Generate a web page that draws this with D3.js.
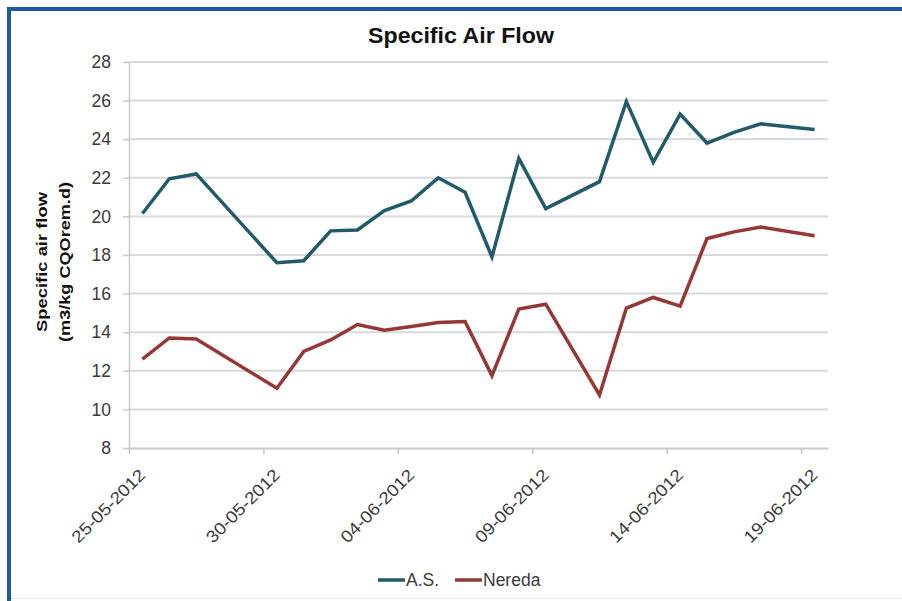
<!DOCTYPE html>
<html>
<head>
<meta charset="utf-8">
<script src="https://cdn.jsdelivr.net/npm/d3@7"></script>
<style>
  html, body { margin: 0; padding: 0; background: #fff; }
  svg { display: block; font-family: "Liberation Sans", Arial, sans-serif; }
</style>
</head>
<body>
<svg id="chart" width="902" height="601"></svg>
<script>
// ---- data ----
const dates = ["25-05-2012","26-05-2012","27-05-2012","30-05-2012","31-05-2012","01-06-2012","02-06-2012","03-06-2012","04-06-2012","05-06-2012","06-06-2012","07-06-2012","08-06-2012","09-06-2012","11-06-2012","12-06-2012","13-06-2012","14-06-2012","15-06-2012","16-06-2012","17-06-2012","19-06-2012"];
const asValues = [20.15,21.95,22.2,17.6,17.7,19.25,19.3,20.3,20.8,22.0,21.25,17.9,23.0,20.4,21.8,25.95,22.8,25.3,23.8,24.35,24.8,24.5];
const neredaValues = [12.6,13.7,13.65,11.1,13.0,13.6,14.4,14.1,14.3,14.5,14.55,11.75,15.2,15.45,10.75,15.25,15.8,15.35,18.85,19.2,19.45,19.0];
const xTickLabels = ["25-05-2012","30-05-2012","04-06-2012","09-06-2012","14-06-2012","19-06-2012"];
const yTicks = [8,10,12,14,16,18,20,22,24,26,28];
const seriesNames = ["A.S.","Nereda"];
const seriesColors = ["#215a69","#953735"];
const xDomain = ["25-05-2012","20-06-2012"];

(function () {
const parse = d3.utcParse("%d-%m-%Y");
const fmt = d3.utcFormat("%d-%m-%Y");
const HALF_DAY = 12 * 3600 * 1000;

const svg = d3.select("#chart");
const W = 902, H = 601;
const pL = 129, pR = 828, pT = 62, pB = 448;

// frame
svg.append("line").attr("x1", 9).attr("y1", 9).attr("x2", W).attr("y2", 9)
  .attr("stroke", "#1f5aa8").attr("stroke-width", 4);
svg.append("line").attr("x1", 9).attr("y1", 7).attr("x2", 9).attr("y2", H)
  .attr("stroke", "#1f5aa8").attr("stroke-width", 4);
svg.append("line").attr("x1", 11).attr("y1", 598.5).attr("x2", W).attr("y2", 598.5)
  .attr("stroke", "#e6e6e6").attr("stroke-width", 1);

const x = d3.scaleUtc().domain(xDomain.map(parse)).range([pL, pR]);
const y = d3.scaleLinear().domain([8, 28]).range([pB, pT]);

// gridlines
svg.append("g").selectAll("line").data(yTicks.filter(v => v !== 8)).join("line")
  .attr("x1", pL).attr("x2", pR)
  .attr("y1", d => y(d)).attr("y2", d => y(d))
  .attr("stroke", "#d9d9d9").attr("stroke-width", 2);

// y axis
const yAxis = svg.append("g").attr("transform", `translate(${pL},0)`)
  .call(d3.axisLeft(y).tickValues(yTicks).tickSize(6).tickPadding(12).tickSizeOuter(0));
yAxis.select(".domain").attr("stroke", "#c8c8c8").attr("stroke-width", 1.5);
yAxis.selectAll(".tick line").attr("stroke", "#c8c8c8").attr("stroke-width", 1.5);
yAxis.selectAll(".tick text").attr("font-size", 17.5).attr("fill", "#3a3a3a")
  .attr("font-family", "'Liberation Sans', Arial, sans-serif");

// x axis
const xAxis = svg.append("g").attr("transform", `translate(0,${pB})`)
  .call(d3.axisBottom(x).tickValues(xTickLabels.map(parse)).tickFormat(fmt).tickSize(6).tickSizeOuter(0));
xAxis.select(".domain").attr("stroke", "#c8c8c8").attr("stroke-width", 2);
xAxis.selectAll(".tick line").attr("stroke", "#c8c8c8").attr("stroke-width", 1.5);
xAxis.selectAll(".tick text")
  .attr("font-size", 17).attr("fill", "#3a3a3a")
  .attr("font-family", "'Liberation Sans', Arial, sans-serif")
  .attr("text-anchor", "end")
  .attr("y", 0).attr("dy", 0)
  .attr("textLength", 96).attr("lengthAdjust", "spacingAndGlyphs")
  .attr("transform", "translate(17,28) rotate(-45)");

// lines
const line = d3.line()
  .x((d, i) => x(new Date(parse(dates[i]).getTime() + HALF_DAY)))
  .y(d => y(d));
[asValues, neredaValues].forEach((vals, k) => {
  svg.append("path").datum(vals)
    .attr("d", line)
    .attr("fill", "none")
    .attr("stroke", seriesColors[k])
    .attr("stroke-width", 3.5)
    .attr("stroke-linejoin", "miter");
});

// title
svg.append("text").attr("x", 461).attr("y", 43)
  .attr("text-anchor", "middle").attr("font-size", 22).attr("font-weight", "bold")
  .attr("fill", "#111").attr("textLength", 186).attr("lengthAdjust", "spacingAndGlyphs")
  .text("Specific Air Flow");

// y label
svg.append("text").attr("transform", "translate(47,262) rotate(-90)")
  .attr("text-anchor", "middle").attr("font-size", 15).attr("font-weight", "bold")
  .attr("fill", "#111").attr("textLength", 140).attr("lengthAdjust", "spacingAndGlyphs")
  .text("Specific air flow");
svg.append("text").attr("transform", "translate(70,262) rotate(-90)")
  .attr("text-anchor", "middle").attr("font-size", 15).attr("font-weight", "bold")
  .attr("fill", "#111").attr("textLength", 160).attr("lengthAdjust", "spacingAndGlyphs")
  .text("(m3/kg CQOrem.d)");

// legend
const legendX = [378, 455];
const legend = svg.append("g");
seriesNames.forEach((name, k) => {
  legend.append("line").attr("x1", legendX[k]).attr("x2", legendX[k] + 27)
    .attr("y1", 580).attr("y2", 580)
    .attr("stroke", seriesColors[k]).attr("stroke-width", 3.5);
  legend.append("text").attr("x", legendX[k] + 28).attr("y", 586)
    .attr("font-size", 17.5).attr("fill", "#3a3a3a").text(name);
});
})();
</script>
</body>
</html>
